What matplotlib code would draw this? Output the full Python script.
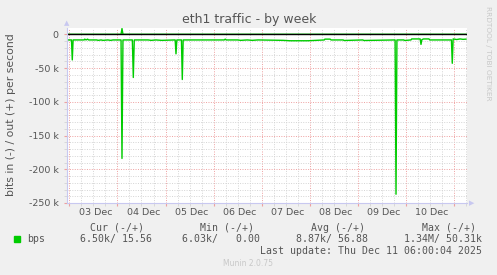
#!/bin/env python
"""
Munin style weekly eth1 traffic graph, redrawn with matplotlib.
output: out.png
"""

import numpy as np
import matplotlib
matplotlib.use('Agg')
import matplotlib.pyplot as plt

# days since 03 Dec 00:00, values in kbit/s (in is drawn negative)
in_days = [-0.054, 0.045, 0.062, 0.079, 0.31, 0.32, 0.35, 0.38, 0.40,
           0.57, 0.60, 0.66, 0.70, 0.80, 0.86, 0.91, 1.075, 1.095, 1.115,
           1.31, 1.33, 1.35, 1.64, 1.70, 1.80, 1.92, 2.20, 2.217, 2.235,
           2.33, 2.348, 2.366, 3.22, 3.24, 3.26, 3.50, 3.56, 3.70, 3.80, 3.92,
           4.44, 4.585, 4.96, 5.30, 5.31, 5.42, 5.44, 5.69, 5.71, 6.10, 6.12,
           6.77, 6.789, 6.808, 6.95, 6.97, 7.10, 7.115, 7.29, 7.308, 7.326,
           7.36, 7.474, 7.49, 7.94, 7.958, 7.976, 8.05, 8.12, 8.18, 8.243]
in_kbps = [-8.4, -8.4, -38.0, -8.4, -8.4, -7.2, -8.4, -7.2, -8.4,
           -8.4, -9.0, -8.4, -9.0, -8.4, -9.0, -8.4, -8.4, -184.0, -8.4,
           -8.4, -64.0, -8.4, -8.4, -9.0, -8.4, -9.0, -8.4, -29.0, -8.4,
           -8.4, -67.0, -8.4, -8.4, -7.2, -8.4, -8.4, -9.0, -8.4, -9.0, -8.4,
           -9.0, -9.6, -9.6, -8.4, -7.2, -7.2, -8.4, -8.4, -9.2, -8.4, -9.2,
           -8.4, -237.0, -8.4, -8.4, -9.2, -8.4, -6.9, -6.9, -15.0, -8.0,
           -6.9, -6.9, -8.4, -8.4, -43.0, -6.9, -7.8, -6.9, -7.5, -7.2]

out_days = [-0.054, 1.075, 1.095, 1.115, 8.243]
out_kbps = [0.0, 0.0, 8.5, 0.0, 0.0]

day_labels = ['03 Dec', '04 Dec', '05 Dec', '06 Dec', '07 Dec',
              '08 Dec', '09 Dec', '10 Dec']
y_ticks = [0, -50, -100, -150, -200, -250]
y_labels = ['0', '-50 k', '-100 k', '-150 k', '-200 k', '-250 k']

legend_cols = ['Cur (-/+)', 'Min (-/+)', 'Avg (-/+)', 'Max (-/+)']
legend_vals = ['6.50k/ 15.56', '6.03k/   0.00', '8.87k/ 56.88', '1.34M/ 50.31k']

W, H = 497, 275
GREEN = '#00CC00'
TXT = '#555555'


def px(x, y):
    """pixel position -> figure fraction"""
    return x / W, 1 - y / H


if __name__ == '__main__':

    fig = plt.figure(figsize=(W / 100, H / 100), dpi=100, facecolor='#F0F0F0')
    l, b = px(66.7, 203)
    r, t = px(467, 28)
    ax = fig.add_axes([l, b, r - l, t - b], facecolor='white')

    # grid
    ax.set_xlim(-0.054, 8.264)
    ax.set_ylim(-250, 9.3)
    ax.set_xticks(np.arange(0, 9))
    ax.set_xticks(np.arange(-0.0, 8.26, 0.25), minor=True)
    ax.set_yticks(y_ticks, labels=y_labels)
    ax.set_yticks(np.arange(-250, 1, 10), minor=True)
    ax.set_xticklabels([])
    ax.grid(which='minor', color='#d4d4d4', linestyle=(0, (1, 1.5)), lw=0.7)
    ax.grid(which='major', color='#eea0a0', linestyle=(0, (1, 1.5)), lw=0.7)
    ax.set_axisbelow(True)
    ax.tick_params(which='major', length=2, color='#eea0a0', labelsize=6.8,
                   labelcolor=TXT, pad=3.8)
    ax.tick_params(which='minor', length=2, color='#d4d4d4')

    for s in ['top', 'right']:
        ax.spines[s].set_visible(False)
    for s in ['left', 'bottom']:
        ax.spines[s].set_color('#C8C8F0')
        ax.spines[s].set_linewidth(0.8)

    # data
    ax.plot(out_days, out_kbps, color=GREEN, lw=1.0)
    ax.plot(in_days, in_kbps, color=GREEN, lw=1.0)
    ax.axhline(0, color='black', lw=1.0)

    # day labels at noon
    for i, lab in enumerate(day_labels):
        ax.text(i + 0.54, -0.055, lab, transform=ax.get_xaxis_transform(),
                ha='center', va='center', fontsize=6.8, color=TXT)

    # axis arrows
    fig.text(*px(67, 23), '\u25B2', fontsize=5, color='#C8C8F0', ha='center', va='center')
    fig.text(*px(472, 203), '\u25B6', fontsize=5, color='#C8C8F0', ha='center', va='center')

    # titles
    fig.text(*px(248.7, 19.5), 'eth1 traffic - by week', fontsize=9, color=TXT,
             ha='center', va='center')
    fig.text(*px(11, 114.5), 'bits in (-) / out (+) per second', fontsize=7.8,
             color=TXT, rotation=90, ha='center', va='center')
    fig.text(*px(488, 53), 'RRDTOOL / TOBI OETIKER', fontsize=5.3, color='#C8C8C8',
             rotation=270, ha='center', va='center')

    # legend
    mono = 'DejaVu Sans Mono'
    fig.patches.append(plt.Rectangle(px(14, 242), 6 / W, 6 / H, color=GREEN,
                                     transform=fig.transFigure))
    fig.text(*px(26.7, 239.3), 'bps', family=mono, fontsize=7.1, color=TXT, va='center')
    head_x = [143.5, 254, 365, 476]
    val_x = [152, 260, 368.3, 482.3]
    for hx, h in zip(head_x, legend_cols):
        fig.text(*px(hx, 227.7), h, family=mono, fontsize=7.1, color=TXT,
                 ha='right', va='center')
    for vx, v in zip(val_x, legend_vals):
        fig.text(*px(vx, 239.3), v, family=mono, fontsize=7.1, color=TXT,
                 ha='right', va='center')
    fig.text(*px(482.3, 251), 'Last update: Thu Dec 11 06:00:04 2025', family=mono,
             fontsize=7.1, color=TXT, ha='right', va='center')
    fig.text(*px(248, 264), 'Munin 2.0.75', fontsize=5.5, color='#C8C8C8',
             ha='center', va='center')

    fig.savefig('out.png', dpi=100, facecolor=fig.get_facecolor())
